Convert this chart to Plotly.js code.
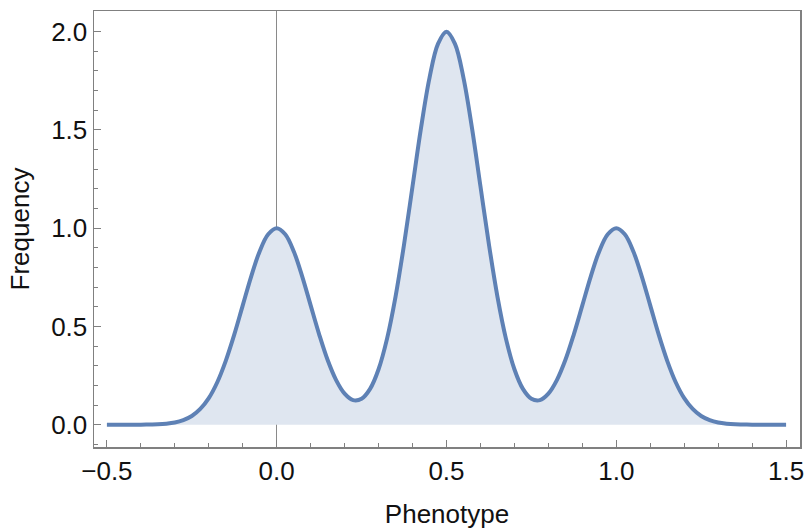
<!DOCTYPE html>
<html>
<head>
<meta charset="utf-8">
<script src="https://cdn.plot.ly/plotly-3.0.1.min.js"></script>
<style>html,body{margin:0;padding:0;background:#fff;}#chart{width:804px;height:532px;}</style>
</head>
<body>
<div id="chart"></div>
<script>
const phenotype = [-0.5,-0.475,-0.45,-0.425,-0.4,-0.375,-0.35,-0.325,-0.3,-0.275,-0.25,-0.225,-0.2,-0.175,-0.15,-0.125,-0.1,-0.075,-0.05,-0.025,
  0,0.025,0.05,0.075,0.1,0.125,0.15,0.175,0.2,0.225,0.25,0.275,0.3,0.325,0.35,0.375,0.4,0.425,0.45,0.475,
  0.5,0.525,0.55,0.575,0.6,0.625,0.65,0.675,0.7,0.725,0.75,0.775,0.8,0.825,0.85,0.875,0.9,0.925,0.95,0.975,
  1,1.025,1.05,1.075,1.1,1.125,1.15,1.175,1.2,1.225,1.25,1.275,1.3,1.325,1.35,1.375,1.4,1.425,1.45,1.475,1.5];
const frequency = [0,0,0,0,0,0.001,0.002,0.005,0.011,0.023,0.044,0.080,0.135,0.216,0.325,0.458,0.607,0.755,0.883,0.969,
  1.000,0.969,0.883,0.755,0.607,0.460,0.329,0.227,0.158,0.125,0.132,0.182,0.282,0.438,0.652,0.917,1.213,1.510,1.765,1.938,
  2.000,1.938,1.765,1.510,1.213,0.917,0.652,0.438,0.282,0.182,0.132,0.125,0.158,0.227,0.329,0.460,0.607,0.755,0.883,0.969,
  1.000,0.969,0.883,0.755,0.607,0.458,0.325,0.216,0.135,0.080,0.044,0.023,0.011,0.005,0.002,0.001,0,0,0,0,0];
const xTicks = [-0.5,0,0.5,1,1.5];
const yTicks = [0,0.5,1,1.5,2];

const font = {family:'"Liberation Sans", Arial, Helvetica, sans-serif', size:26, color:'#111'};
const frameColor = '#808080';

Plotly.newPlot('chart', [{
  x: phenotype, y: frequency, type:'scatter', mode:'lines',
  line:{color:'#5e81b5', width:4, shape:'spline', smoothing:1},
  fill:'tozeroy', fillcolor:'#dfe6f0', hoverinfo:'skip'
}], {
  width:804, height:532,
  margin:{l:94, r:4, t:11, b:85},
  paper_bgcolor:'#fff', plot_bgcolor:'#fff',
  showlegend:false,
  font: font,
  xaxis:{
    range:[-0.538,1.541], tickvals:xTicks, ticktext:xTicks.map(v=>v.toFixed(1).replace('-','\u2212')),
    ticklabeloverflow:'allow',
    ticks:'inside', ticklen:7, tickwidth:1, tickcolor:frameColor,
    minor:{ticks:'inside', dtick:0.1, tick0:0, ticklen:4, tickwidth:1, tickcolor:frameColor},
    showline:true, linecolor:frameColor, linewidth:1.5, mirror:true,
    showgrid:false, zeroline:true, zerolinecolor:'#8a8a8a', zerolinewidth:1,
    title:{text:'Phenotype', font:font, standoff:20},
    tickfont:font
  },
  yaxis:{
    range:[-0.1135,2.105], tickvals:yTicks, ticktext:yTicks.map(v=>v.toFixed(1)),
    ticklabeloverflow:'allow',
    ticks:'inside', ticklen:7, tickwidth:1, tickcolor:frameColor,
    minor:{ticks:'inside', dtick:0.1, tick0:0, ticklen:4, tickwidth:1, tickcolor:frameColor},
    showline:true, linecolor:frameColor, linewidth:1.5, mirror:true,
    showgrid:false, zeroline:false,
    title:{text:'Frequency', font:font, standoff:14},
    tickfont:font
  }
}, {staticPlot:true, displayModeBar:false});
</script>
</body>
</html>
